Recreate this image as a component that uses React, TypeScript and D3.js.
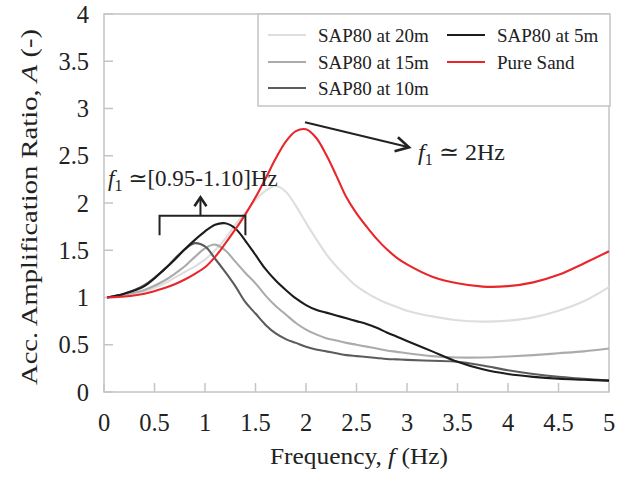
import React from 'react';
import * as d3 from 'd3';

const freq = [0.03, 0.2, 0.4, 0.6, 0.7, 0.8, 0.9, 1.0, 1.1, 1.2, 1.3, 1.4, 1.5, 1.6, 1.7, 1.8, 1.9, 2.0, 2.1, 2.2, 2.3, 2.4, 2.5, 2.6, 2.7, 2.8, 2.9, 3.0, 3.25, 3.5, 3.75, 4.0, 4.25, 4.5, 4.75, 5.0];
const sap20 = [1.00, 1.01, 1.06, 1.15, 1.21, 1.27, 1.33, 1.40, 1.50, 1.62, 1.77, 1.90, 2.03, 2.13, 2.18, 2.12, 1.97, 1.79, 1.62, 1.46, 1.33, 1.22, 1.12, 1.05, 0.99, 0.94, 0.90, 0.86, 0.80, 0.76, 0.745, 0.755, 0.79, 0.86, 0.96, 1.11];
const sap15 = [1.00, 1.03, 1.08, 1.18, 1.25, 1.33, 1.43, 1.52, 1.56, 1.50, 1.38, 1.26, 1.15, 1.02, 0.91, 0.82, 0.73, 0.66, 0.61, 0.57, 0.545, 0.52, 0.50, 0.48, 0.46, 0.44, 0.425, 0.41, 0.38, 0.365, 0.365, 0.375, 0.39, 0.41, 0.43, 0.46];
const sap10 = [1.00, 1.04, 1.13, 1.30, 1.41, 1.51, 1.575, 1.54, 1.41, 1.27, 1.12, 0.95, 0.83, 0.71, 0.62, 0.56, 0.52, 0.48, 0.45, 0.43, 0.41, 0.39, 0.38, 0.37, 0.36, 0.35, 0.345, 0.34, 0.33, 0.32, 0.28, 0.23, 0.19, 0.16, 0.14, 0.12];
const sap5 = [1.00, 1.04, 1.12, 1.30, 1.40, 1.51, 1.61, 1.70, 1.77, 1.785, 1.73, 1.60, 1.45, 1.30, 1.18, 1.08, 0.99, 0.92, 0.87, 0.84, 0.81, 0.78, 0.75, 0.72, 0.68, 0.63, 0.585, 0.54, 0.43, 0.32, 0.24, 0.19, 0.16, 0.14, 0.13, 0.12];
const pureSand = [1.00, 1.01, 1.04, 1.10, 1.14, 1.19, 1.25, 1.32, 1.43, 1.57, 1.72, 1.88, 2.06, 2.26, 2.47, 2.65, 2.76, 2.78, 2.69, 2.51, 2.29, 2.06, 1.89, 1.75, 1.62, 1.51, 1.42, 1.35, 1.22, 1.15, 1.115, 1.12, 1.16, 1.24, 1.36, 1.49];

const seriesNames = ['SAP80 at 20m', 'SAP80 at 15m', 'SAP80 at 10m', 'SAP80 at 5m', 'Pure Sand'];
const seriesValues = [sap20, sap15, sap10, sap5, pureSand];
const seriesColors = ['#dedede', '#ababab', '#5c5c5c', '#1c1c1c', '#e8262b'];

const xTicks = [0, 0.5, 1, 1.5, 2, 2.5, 3, 3.5, 4, 4.5, 5];
const yTicks = [0, 0.5, 1, 1.5, 2, 2.5, 3, 3.5, 4];

const FONT = "'Liberation Serif', 'DejaVu Serif', serif";
const AXIS = '#c4c4c4';

const W = 620, H = 481;
const plot = { left: 104, right: 609, top: 14, bottom: 392 };

export default function App() {
  const x = d3.scaleLinear().domain([0, 5]).range([plot.left, plot.right]);
  const y = d3.scaleLinear().domain([0, 4]).range([plot.bottom, plot.top]);
  const line = d3.line<[number, number]>()
    .x(d => x(d[0]))
    .y(d => y(d[1]))
    .curve(d3.curveCatmullRom.alpha(0.5));

  const legendItems = [
    { i: 0, col: 0, row: 0 },
    { i: 1, col: 0, row: 1 },
    { i: 2, col: 0, row: 2 },
    { i: 3, col: 1, row: 0 },
    { i: 4, col: 1, row: 1 },
  ];
  const colX = [268, 447];
  const rowY = [35, 62, 88];

  const brL = x(0.55), brR = x(1.40), brTop = y(1.865), brBot = y(1.66);
  const arUpX = x(0.955), arUpTip = y(2.06);
  const a2x1 = x(1.99), a2y1 = y(2.855), a2x2 = x(3.02), a2y2 = y(2.59);
  const ang = Math.atan2(a2y2 - a2y1, a2x2 - a2x1);
  const headLen = 15, headAng = 0.5;
  const h1 = [a2x2 - headLen * Math.cos(ang - headAng), a2y2 - headLen * Math.sin(ang - headAng)];
  const h2 = [a2x2 - headLen * Math.cos(ang + headAng), a2y2 - headLen * Math.sin(ang + headAng)];

  const ts = { fontFamily: FONT, fill: '#222' };

  return (
    <svg width={W} height={H} style={{ position: 'absolute', left: 0, top: 0, background: '#fff' }}>
      <rect x={0} y={0} width={W} height={H} fill="#fff" />
      <rect x={plot.left} y={plot.top} width={plot.right - plot.left} height={plot.bottom - plot.top}
        fill="none" stroke={AXIS} strokeWidth={1.5} />
      {yTicks.map(t => (
        <g key={'y' + t}>
          <line x1={plot.left} x2={plot.left + 9} y1={y(t)} y2={y(t)} stroke={AXIS} strokeWidth={1.5} />
          <text x={89} y={y(t)} dy="0.35em" textAnchor="end" fontSize={24.5} style={ts}>{t}</text>
        </g>
      ))}
      {xTicks.map(t => (
        <g key={'x' + t}>
          <line x1={x(t)} x2={x(t)} y1={plot.bottom} y2={plot.bottom - 9} stroke={AXIS} strokeWidth={1.5} />
          <text x={x(t)} y={431} textAnchor="middle" fontSize={24.5} style={ts}>{t}</text>
        </g>
      ))}
      <text x={359} y={464} textAnchor="middle" fontSize={24} style={ts} textLength={178} lengthAdjust="spacingAndGlyphs">
        Frequency, <tspan fontStyle="italic">f</tspan> (Hz)
      </text>
      <text transform="translate(37,207) rotate(-90)" textAnchor="middle" fontSize={24} style={ts} textLength={356} lengthAdjust="spacingAndGlyphs">
        Acc. Amplification Ratio, <tspan fontStyle="italic">A</tspan> (-)
      </text>

      {seriesValues.map((vals, i) => (
        <path key={seriesNames[i]}
          d={line(freq.map((f, k) => [f, vals[k]] as [number, number])) || ''}
          fill="none" stroke={seriesColors[i]} strokeWidth={2.1} />
      ))}

      <rect x={258} y={14} width={352} height={92} fill="#fff" stroke={AXIS} strokeWidth={1.5} />
      {legendItems.map(it => (
        <g key={'lg' + it.i}>
          <line x1={colX[it.col]} x2={colX[it.col] + 38} y1={rowY[it.row]} y2={rowY[it.row]}
            stroke={seriesColors[it.i]} strokeWidth={2.2} />
          <text x={colX[it.col] + 50} y={rowY[it.row]} dy="0.35em" fontSize={19} style={ts}>{seriesNames[it.i]}</text>
        </g>
      ))}

      <path d={`M${brL},${brBot} L${brL},${brTop} L${brR},${brTop} L${brR},${brBot}`} fill="none" stroke="#222" strokeWidth={2} />
      <line x1={arUpX} x2={arUpX} y1={brTop} y2={arUpTip + 1} stroke="#222" strokeWidth={2} />
      <path d={`M${arUpX - 6},${arUpTip + 9} L${arUpX},${arUpTip} L${arUpX + 6},${arUpTip + 9}`} fill="none" stroke="#222" strokeWidth={2.6} />
      <text x={108} y={y(2.18)} fontSize={23} style={ts}>
        <tspan fontStyle="italic">f</tspan><tspan fontSize={16} dy={5}>1</tspan><tspan dy={-5}> ≃[0.95-1.10]Hz</tspan>
      </text>

      <line x1={a2x1} y1={a2y1} x2={a2x2} y2={a2y2} stroke="#222" strokeWidth={2} />
      <path d={`M${h1[0]},${h1[1]} L${a2x2},${a2y2} L${h2[0]},${h2[1]}`} fill="none" stroke="#222" strokeWidth={2.6} />
      <text x={x(3.11)} y={y(2.45)} fontSize={24} style={ts}>
        <tspan fontStyle="italic">f</tspan><tspan fontSize={16} dy={5}>1</tspan><tspan dy={-5}> ≃ 2Hz</tspan>
      </text>
    </svg>
  );
}
